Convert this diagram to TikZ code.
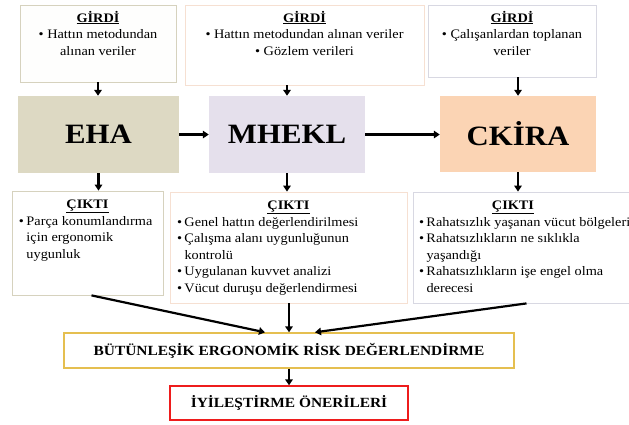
\documentclass[tikz,border=0pt]{standalone}
\usepackage{fontspec}
\setmainfont[FakeStretch=1.1]{Liberation Serif}
\usetikzlibrary{arrows.meta}

\definecolor{ehafill}{HTML}{DDD9C3}
\definecolor{mheklfill}{HTML}{E5E0EC}
\definecolor{ckirafill}{HTML}{FBD4B4}
\definecolor{tanline}{HTML}{D6D2BE}
\definecolor{peachline}{HTML}{F6E0D2}
\definecolor{greyline}{HTML}{D8D8E2}
\definecolor{goldline}{HTML}{E5BF50}
\definecolor{redline}{HTML}{EE1C1C}

% box contents: width, height, top gap, text
\newcommand{\boxbody}[4]{\parbox[c][#2pt][t]{#1pt}{\vspace*{#3pt}#4}}
\newcommand{\itm}[1]{\par\noindent\hangindent=7.5pt\hangafter=1\makebox[7.5pt][l]{•}#1}

\begin{document}
\begin{tikzpicture}[x=1pt, y=-1pt,
    inbox/.style={draw, line width=0.8pt, inner xsep=4pt, inner ysep=0pt, align=center,
                  font=\fontsize{13}{16.5}\selectfont},
    outbox/.style={draw, line width=0.8pt, inner xsep=7pt, inner ysep=0pt,
                   font=\fontsize{13}{16.5}\selectfont},
    method/.style={inner sep=0pt, font=\fontsize{28}{30}\selectfont\bfseries},
    final/.style={draw, line width=1.4pt, inner sep=0pt, font=\fontsize{14}{16}\selectfont\bfseries},
    arr/.style={line width=2.2pt, -{Triangle[length=6pt, width=7.5pt]}}]
    \useasboundingbox (0,0) rectangle (629,424);

    % Inputs
    \node[inbox, draw=tanline, fill=white!97!ehafill] (g1) at (98,43.5)
        {\boxbody{148}{77}{6}{\centering\textbf{\underline{GİRDİ}}\\ • Hattın metodundan\\ alınan veriler}};
    \node[inbox, draw=peachline, fill=white] (g2) at (304.5,45)
        {\boxbody{231}{80}{6}{\centering\textbf{\underline{GİRDİ}}\\ • Hattın metodundan alınan veriler\\ • Gözlem verileri}};
    \node[inbox, draw=greyline, fill=white] (g3) at (512,41)
        {\boxbody{160}{72}{6}{\centering\textbf{\underline{GİRDİ}}\\ • Çalışanlardan toplanan\\ veriler}};

    % Methods
    \node[method, fill=ehafill, minimum width=161pt, minimum height=77pt] (eha) at (98.5,134.5) {EHA};
    \node[method, fill=mheklfill, minimum width=156pt, minimum height=77pt] (mhekl) at (287,134.5) {MHEKL};
    \node[method, fill=ckirafill, minimum width=156pt, minimum height=76pt] (ckira) at (518,134) {CKİRA};

    % Outputs
    \node[outbox, draw=tanline, fill=white] (c1) at (87.5,243)
        {\boxbody{137}{104}{9}{{\centering\textbf{\underline{ÇIKTI}}\par}
        \itm{Parça konumlandırma\\ için ergonomik\\ uygunluk}}};
    \node[outbox, draw=peachline, fill=white] (c2) at (288.5,247.5)
        {\boxbody{223}{111}{9}{{\centering\textbf{\underline{ÇIKTI}}\par}
        \itm{Genel hattın değerlendirilmesi}
        \itm{Çalışma alanı uygunluğunun\\ kontrolü}
        \itm{Uygulanan kuvvet analizi}
        \itm{Vücut duruşu değerlendirmesi}}};
    \node[outbox, draw=greyline, fill=white, inner xsep=6pt] (c3) at (526.5,247.5)
        {\boxbody{215}{111}{9}{\noindent\makebox[188pt]{\textbf{\underline{ÇIKTI}}}
        \itm{Rahatsızlık yaşanan vücut bölgeleri}
        \itm{Rahatsızlıkların ne sıklıkla\\ yaşandığı}
        \itm{Rahatsızlıkların işe engel olma\\ derecesi}}};

    % Results
    \node[final, draw=goldline, minimum width=450pt, minimum height=35pt] (bre) at (289,350.5)
        {BÜTÜNLEŞİK ERGONOMİK RİSK DEĞERLENDİRME};
    \node[final, draw=redline, minimum width=238pt, minimum height=34pt] (iyi) at (289,403)
        {İYİLEŞTİRME ÖNERİLERİ};

    % Arrows
    \draw[arr] (g1.south) -- (g1.south |- eha.north);
    \draw[arr] (mhekl.north |- g2.south) -- (mhekl.north);
    \draw[arr] (ckira.north |- g3.south) -- (ckira.north);
    \draw[arr] (eha.east) -- (eha.east -| mhekl.west);
    \draw[arr] (mhekl.east) -- (mhekl.east -| ckira.west);
    \draw[arr] (eha.south) -- (eha.south |- c1.north);
    \draw[arr] (mhekl.south) -- (mhekl.south |- c2.north);
    \draw[arr] (ckira.south) -- (ckira.south |- c3.north);
    \draw[arr] ([xshift=4pt]c1.south) -- ([xshift=-24pt]bre.north);
    \draw[arr] (c2.south -| bre.north) -- (bre.north);
    \draw[arr] (c3.south) -- ([xshift=26pt]bre.north);
    \draw[arr] (bre.south) -- (iyi.north);
\end{tikzpicture}
\end{document}
